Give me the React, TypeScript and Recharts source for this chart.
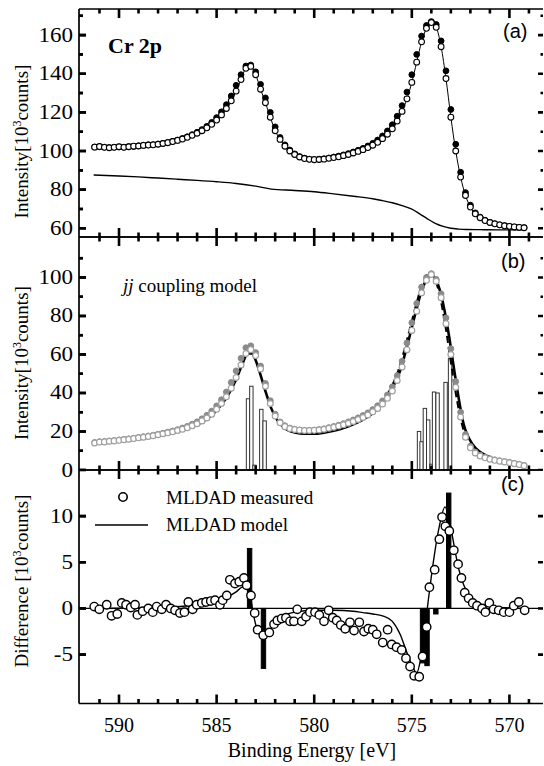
import React from 'react';
import { ComposedChart, Line, Bar, XAxis, YAxis, ReferenceLine, Customized } from 'recharts';

const W = 544;
const H = 766;
const SERIF = '"Liberation Serif", "Times New Roman", Times, serif';
const SANS = '"Liberation Sans", Arial, Helvetica, sans-serif';

const X_DOMAIN = [568.28, 592.05];
const X_MAJOR = [570, 575, 580, 585, 590];
const X_MINOR = [569, 571, 572, 573, 574, 576, 577, 578, 579, 581, 582, 583, 584, 586, 587, 588, 589, 591];

const Y_DOMAIN_A = [55.5, 173.5];
const Y_MAJOR_A = [60, 80, 100, 120, 140, 160];
const Y_MINOR_A = [70, 90, 110, 130, 150, 170];
const Y_DOMAIN_B = [0, 121];
const Y_MAJOR_B = [0, 20, 40, 60, 80, 100];
const Y_MINOR_B = [10, 30, 50, 70, 90, 110];
const Y_DOMAIN_C = [-10.3, 15];
const Y_MAJOR_C = [-5, 0, 5, 10];
const Y_MINOR_C: number[] = [];

const E_AB = [
  591.25, 591, 590.75, 590.5, 590.25, 590, 589.75, 589.5, 589.25, 589,
  588.75, 588.5, 588.25, 588, 587.75, 587.5, 587.25, 587, 586.75, 586.5,
  586.25, 586, 585.75, 585.5, 585.25, 585, 584.75, 584.5, 584.25, 584,
  583.75, 583.5, 583.25, 583, 582.75, 582.5, 582.25, 582, 581.75, 581.5,
  581.25, 581, 580.75, 580.5, 580.25, 580, 579.75, 579.5, 579.25, 579,
  578.75, 578.5, 578.25, 578, 577.75, 577.5, 577.25, 577, 576.75, 576.5,
  576.25, 576, 575.75, 575.5, 575.25, 575, 574.75, 574.5, 574.25, 574,
  573.75, 573.5, 573.25, 573, 572.75, 572.5, 572.25, 572, 571.75, 571.5,
  571.25, 571, 570.75, 570.5, 570.25, 570, 569.75, 569.5, 569.25,
];

const A_OPEN = [
  102.0, 102.3, 101.9, 101.7, 101.9, 102.2, 101.9, 102.2, 102.5, 102.6,
  102.9, 103.1, 103.2, 103.5, 103.9, 104.3, 104.9, 105.5, 106.2, 107.1,
  108.1, 109.2, 110.5, 112.0, 113.8, 116.0, 118.7, 122.0, 126.0, 131.0,
  137.0, 142.8, 143.8, 139.5, 132.0, 125.0, 117.5, 110.5, 106.0, 102.5,
  100.0, 98.2, 96.9, 96.1, 95.7, 95.5, 95.6, 95.8, 96.2, 96.6,
  97.0, 97.6, 98.2, 99.0, 99.8, 100.7, 101.8, 103.0, 104.5, 106.4,
  108.7, 111.5, 115.5, 120.5, 127.0, 135.5, 146.0, 156.5, 163.5, 166.5,
  164.0, 154.0, 137.5, 117.5, 100.0, 86.5, 77.0, 71.0, 67.5, 65.5,
  64.0, 63.0, 62.3, 61.8, 61.3, 61.0, 60.7, 60.5, 60.3,
];
const A_FILLED = [
  102.1, 102.2, 102.0, 101.8, 102.0, 102.1, 102.0, 102.3, 102.4, 102.7,
  103.0, 103.2, 103.3, 103.6, 104.0, 104.5, 105.0, 105.7, 106.5, 107.4,
  108.5, 109.7, 111.1, 112.8, 114.8, 117.3, 120.3, 124.0, 128.5, 134.0,
  139.5, 144.0, 144.5, 141.0, 134.5, 127.5, 120.0, 112.5, 107.0, 103.2,
  100.5, 98.5, 97.1, 96.3, 95.8, 95.6, 95.8, 96.0, 96.4, 96.9,
  97.4, 98.0, 98.7, 99.5, 100.4, 101.4, 102.6, 104.0, 105.7, 107.8,
  110.4, 113.6, 118.0, 123.5, 130.5, 139.5, 150.0, 159.5, 165.0, 167.0,
  165.5, 157.0, 141.5, 121.5, 103.5, 89.0, 78.5, 72.0, 68.0, 65.8,
  64.2, 63.1, 62.4, 61.8, 61.3, 61.0, 60.7, 60.5, 60.3,
];
const A_BG_E = [591.3, 590, 589, 588, 587, 586, 585, 584, 583, 582.2, 581, 580, 579, 578, 577, 576.5, 576, 575.5, 575, 574.6, 574.2, 573.8, 573.4, 573, 572.6, 572.2, 571.5, 570.5, 569.2];
const A_BG = [87.6, 87.1, 86.6, 86.0, 85.4, 84.8, 84.1, 83.2, 81.8, 80.3, 79.6, 78.9, 77.8, 76.6, 75.3, 74.3, 73.2, 71.7, 69.9, 67.5, 64.9, 62.6, 61.0, 60.0, 59.6, 59.4, 59.3, 59.2, 59.2];

const B_OPEN = [
  14.0, 14.5, 14.6, 14.9, 15.1, 15.4, 15.7, 16.0, 16.3, 16.7,
  17.0, 17.4, 17.8, 18.3, 18.8, 19.3, 19.8, 20.5, 21.2, 22.0,
  23.0, 24.0, 25.5, 27.0, 29.0, 31.5, 34.5, 38.0, 42.5, 48.0,
  54.5, 60.5, 62.5, 59.5, 52.5, 43.5, 34.5, 28.0, 24.5, 22.5,
  21.5, 21.0, 20.7, 20.5, 20.5, 20.6, 20.8, 21.2, 21.7, 22.2,
  22.8, 23.5, 24.3, 25.2, 26.2, 27.3, 28.6, 30.2, 32.0, 34.3,
  37.2, 41.0, 46.5, 53.5, 62.5, 72.5, 82.5, 92.0, 98.5, 101.5,
  98.0, 89.5, 76.0, 60.0, 43.0, 27.5, 17.0, 11.5, 8.8, 7.3,
  6.3, 5.6, 5.0, 4.6, 4.2, 3.8, 3.3, 2.8, 2.2,
];
const B_FILLED = [
  14.3, 14.7, 14.8, 15.1, 15.3, 15.6, 15.9, 16.2, 16.5, 16.9,
  17.3, 17.7, 18.1, 18.6, 19.1, 19.7, 20.3, 21.0, 21.8, 22.7,
  23.8, 25.0, 26.6, 28.4, 30.6, 33.3, 36.5, 40.5, 45.5, 51.5,
  58.0, 63.5, 64.5, 61.0, 54.0, 45.0, 36.0, 29.0, 25.0, 23.0,
  21.8, 21.2, 20.8, 20.6, 20.6, 20.7, 21.0, 21.4, 22.0, 22.6,
  23.3, 24.1, 25.0, 26.0, 27.1, 28.3, 29.7, 31.4, 33.4, 35.9,
  39.0, 43.2, 49.0, 56.5, 66.0, 76.5, 86.5, 95.0, 100.0, 102.0,
  99.0, 91.5, 79.0, 63.0, 46.0, 30.0, 18.5, 12.3, 9.3, 7.7,
  6.6, 5.9, 5.3, 4.8, 4.4, 4.0, 3.5, 3.0, 2.4,
];
const B_MODEL_E = [591.3, 590, 589, 588, 587, 586.5, 586, 585.5, 585, 584.5, 584, 583.7, 583.4, 583.2, 583, 582.8, 582.5, 582.2, 581.9, 581.5, 581, 580.5, 580, 579.5, 579, 578.5, 578, 577.5, 577, 576.5, 576, 575.6, 575.2, 574.8, 574.5, 574.2, 574, 573.8, 573.5, 573.1, 572.8, 572.35, 571.9, 571, 570, 569.2];
const B_MODEL = [14.5, 15.5, 16.5, 18.0, 20.0, 21.5, 23.5, 26.5, 31.0, 37.5, 47.0, 54.5, 60.5, 60.5, 57.0, 51.0, 41.0, 32.0, 26.0, 21.5, 19.5, 18.8, 18.8, 19.4, 20.4, 21.8, 23.7, 26.2, 29.5, 34.5, 42.5, 51.5, 66.0, 82.0, 93.0, 99.5, 101.0, 99.5, 91.0, 70.0, 50.0, 24.0, 13.5, 6.5, 3.5, 2.5];
const B_DASH_E = [577, 576.5, 576, 575.6, 575.2, 574.8, 574.5, 574.25, 574.05, 573.85, 573.6, 573.3, 573, 572.7, 572.4, 572, 571.5];
const B_DASH = [30.0, 35.5, 44.0, 54.5, 69.5, 85.0, 95.5, 101.0, 102.5, 100.0, 92.0, 76.0, 56.0, 37.0, 22.5, 13.0, 8.0];
const B_BAR_E = [583.39, 583.22, 583.06, 582.71, 582.54, 574.63, 574.5, 574.33, 574.16, 574.0, 573.86, 573.68, 573.27, 573.04];
const B_BAR = [37, 43.5, 2.5, 31.5, 25.5, 20, 14.7, 32, 26, 3, 40.5, 40, 45.5, 58];

const C_MEAS_E = [
  591.27, 591.01, 590.63, 590.38, 590.09, 589.86, 589.64, 589.4, 589.18, 589.06,
  588.79, 588.5, 588.27, 588.07, 587.81, 587.59, 587.35, 587.13, 586.88, 586.65,
  586.45, 586.23, 586.02, 585.76, 585.54, 585.3, 585.08, 584.83, 584.69, 584.48,
  584.32, 584.06, 583.84, 583.6, 583.46, 583.24, 583.05, 582.9, 582.61, 582.3,
  582.06, 581.89, 581.67, 581.45, 581.24, 581.04, 580.87, 580.64, 580.42, 580.22,
  579.96, 579.74, 579.5, 579.26, 579.05, 578.85, 578.64, 578.41, 578.17, 577.96,
  577.69, 577.45, 577.23, 577.0, 576.8, 576.49, 576.24, 576.03, 575.78, 575.52,
  575.3, 575.09, 574.88, 574.62, 574.45, 574.24, 574.1, 573.83, 573.59, 573.45,
  573.28, 573.08, 572.85, 572.63, 572.46, 572.29, 572.09, 571.88, 571.66, 571.4,
  571.23, 571.03, 570.81, 570.55, 570.29, 570.0, 569.78, 569.52, 569.22,
];
const C_MEAS = [
  0.2, -0.1, 0.4, -0.8, -0.6, 0.6, 0.4, 0.1, 0.4, -0.7,
  -0.3, 0.0, -0.4, 0.2, -0.1, 0.4, 0.0, -0.2, -0.5, -0.4,
  0.7, -0.1, 0.4, 0.6, 0.7, 0.8, 0.9, 0.4, 0.9, 1.4,
  3.1, 2.7, 2.9, 3.3, 2.5, 1.4, -0.5, -2.3, -2.9, -2.6,
  -1.7, -1.3, -1.1, -1.0, -1.4, -1.4, -0.1, -1.4, -0.9, -0.4,
  -0.4, -0.7, -1.4, -0.2, -1.0, -1.3, -1.8, -2.2, -1.5, -2.4,
  -1.5, -2.5, -2.2, -2.3, -2.8, -3.7, -2.3, -3.9, -4.2, -4.5,
  -5.4, -6.3, -7.3, -7.4, -5.2, -2.0, 2.3, 4.2, 7.5, 9.9,
  8.9, 8.4, 6.3, 4.8, 3.3, 1.7, 1.1, 0.6, 0.3, 0.0,
  -0.4, 0.6, -0.1, -0.2, -0.4, -0.4, 0.3, 0.7, -0.2,
];
const C_MODEL_E = [591.3, 588, 586, 585, 584.5, 584, 583.7, 583.45, 583.25, 583.1, 582.9, 582.7, 582.5, 582.2, 581.9, 581.5, 581, 580, 579, 578, 577.5, 577, 576.5, 576, 575.6, 575.3, 575, 574.75, 574.55, 574.35, 574.15, 573.9, 573.6, 573.3, 573.1, 572.85, 572.6, 572.35, 572.1, 571.8, 571.4, 571, 570.5, 569.2];
const C_MODEL = [0.0, 0.1, 0.4, 0.8, 1.2, 1.8, 2.3, 2.4, 1.0, -0.8, -2.4, -3.0, -2.9, -2.1, -1.3, -0.7, -0.4, -0.2, -0.2, -0.3, -0.45, -0.6, -0.8, -1.4, -2.8, -4.5, -6.1, -7.0, -5.5, -2.5, 1.0, 5.0, 8.8, 11.0, 9.8, 7.0, 4.3, 2.6, 1.5, 0.8, 0.4, 0.2, 0.1, 0.0];
const C_BAR_E = [583.31, 582.6, 574.45, 574.22, 573.77, 573.11];
const C_BAR = [6.5, -6.5, -5.9, -6.2, -0.6, 12.5];

const rows = (es: number[], vs: number[]) => es.map((e, i) => ({ e, v: vs[i] }));

const PLOT_LEFT = 79;
const PLOT_W = W - PLOT_LEFT - 1;
const A_TOP = 9;
const A_BOTTOM = 237;
const B_BOTTOM = 470;
const C_BOTTOM = 703.5;
const AXIS_LINE = { stroke: '#000', strokeWidth: 1.7 };
const TICK_COLOR = '#000';
const TICK_W = 2.6;
const TICK_LINE = { stroke: TICK_COLOR, strokeWidth: TICK_W };

const NoLabel = () => null;

const XLabel = (props: any) => (
  <text x={props.x} y={props.y + 28} textAnchor="middle" fontFamily={SERIF} fontSize={20} fill="#000">
    {props.payload.value}
  </text>
);

const YLabel = (props: any) => (
  <text
    transform={`translate(${props.x - 6},${props.y + 6.5}) scale(1.15,1)`}
    textAnchor="end"
    fontFamily={SERIF}
    fontSize={20}
    fill="#000"
  >
    {props.payload.value}
  </text>
);

const common = {
  type: 'number' as const,
  allowDataOverflow: true,
  interval: 0 as const,
  stroke: '#000',
  tickLine: false,
  tickSize: 0,
  tickMargin: 0,
};

function axes(yDomain: number[], yMajor: number[], yMinor: number[], xLabels: boolean) {
  const list = [
    <XAxis key="xb" {...common} dataKey="e" domain={X_DOMAIN} reversed ticks={X_MAJOR} height={1}
      axisLine={AXIS_LINE} tick={xLabels ? <XLabel /> : <NoLabel />} />,
    <XAxis key="xt" xAxisId="t" orientation="top" {...common} dataKey="e" domain={X_DOMAIN} reversed ticks={X_MAJOR} height={1}
      axisLine={AXIS_LINE} tick={<NoLabel />} />,
    <YAxis key="yl" {...common} domain={yDomain} ticks={yMajor} width={PLOT_LEFT}
      tickLine={TICK_LINE} tickSize={-7} tickMargin={7}
      axisLine={AXIS_LINE} tick={<YLabel />} />,
    <YAxis key="yr" yAxisId="r" orientation="right" {...common} domain={yDomain} ticks={yMajor} width={1}
      axisLine={false} tick={<NoLabel />} />,
  ];
  if (yMinor.length) {
    list.push(
      <YAxis key="ylm" yAxisId="lm" {...common} domain={yDomain} ticks={yMinor} width={1} mirror
        tickLine={TICK_LINE} tickSize={4} axisLine={false} tick={<NoLabel />} />,
    );
  }
  return list;
}

function tickSeries(yDomain: number[], yMajor: number[], yMinor: number[], plotH: number) {
  const [y0, y1] = yDomain;
  const pyu = plotH / (y1 - y0);
  const pxu = PLOT_W / (X_DOMAIN[1] - X_DOMAIN[0]);
  const xl = X_DOMAIN[1];
  const xr = X_DOMAIN[0];
  const bottom: any[] = [];
  const top: any[] = [];
  const left: any[] = [];
  const right: any[] = [];
  const xt: [number, number][] = [...X_MAJOR.map((e) => [e, 9] as [number, number]), ...X_MINOR.map((e) => [e, 4.5] as [number, number])];
  xt.forEach(([e, len]) => {
    bottom.push({ e, v: y0 }, { e, v: y0 + len / pyu }, { e, v: null });
    top.push({ e, v: y1 }, { e, v: y1 - len / pyu }, { e, v: null });
  });
  const yt: [number, number, number][] = [
    ...yMajor.map((v) => [v, 7, 5] as [number, number, number]),
    ...yMinor.map((v) => [v, 4, 2.5] as [number, number, number]),
  ];
  yt.forEach(([v, lenL, lenR]) => {
    left.push({ e: xl, v }, { e: xl - lenL / pxu, v }, { e: xl, v: null });
    right.push({ e: xr, v }, { e: xr + lenR / pxu, v }, { e: xr, v: null });
  });
  const style = { stroke: TICK_COLOR, strokeWidth: TICK_W, dot: false, activeDot: false, isAnimationActive: false, type: 'linear' as const, connectNulls: false };
  return [
    <Line key="tb" data={bottom} dataKey="v" {...style} />,
    <Line key="tt" data={top} dataKey="v" {...style} />,
    <Line key="tl" data={left} dataKey="v" {...style} />,
    <Line key="tr" data={right} dataKey="v" {...style} />,
  ];
}

const makeBarShape = (w: number, fill: string, stroke: string) => (p: any) => {
  const cx = p.x + p.width / 2;
  const top = Math.min(p.y, p.y + p.height);
  const h = Math.abs(p.height);
  return <rect x={cx - w / 2} y={top} width={w} height={h} fill={fill} stroke={stroke} strokeWidth={1} />;
};

const YTitle = ({ cy, main }: { cy: number; main: string }) => (
  <text x={28} y={cy} transform={`rotate(-90 28 ${cy})`} textAnchor="middle" fontFamily={SERIF} fontSize={19} fill="#000">
    {main}
    <tspan dy={-7} fontSize={12}>3</tspan>
    <tspan dy={7}>counts]</tspan>
  </text>
);

const AnnotA = () => (
  <g>
    <text x={108} y={53} fontFamily={SERIF} fontWeight="bold" fontSize={22} fill="#000">Cr 2p</text>
    <text x={503} y={38} fontFamily={SANS} fontSize={20} fill="#000">(a)</text>
    <YTitle cy={141.5} main="Intensity[10" />
  </g>
);

const AnnotB = () => (
  <g>
    <text x={123} y={292} fontFamily={SERIF} fontSize={19} fill="#000">
      <tspan fontStyle="italic">jj</tspan> coupling model
    </text>
    <text x={501} y={268} fontFamily={SANS} fontSize={20} fill="#000">(b)</text>
    <YTitle cy={363} main="Intensity[10" />
  </g>
);

const AnnotC = () => (
  <g>
    <circle cx={123} cy={497} r={4.2} fill="#fff" stroke="#000" strokeWidth={1.6} />
    <text x={166} y={504} fontFamily={SERIF} fontSize={19} fill="#000">MLDAD measured</text>
    <line x1={95} x2={148} y1={525} y2={525} stroke="#000" strokeWidth={1.4} />
    <text x={166} y={531} fontFamily={SERIF} fontSize={19} fill="#000">MLDAD model</text>
    <text x={501} y={491} fontFamily={SANS} fontSize={20} fill="#000">(c)</text>
    <YTitle cy={581} main="Difference [10" />
    <text x={312} y={757} textAnchor="middle" fontFamily={SERIF} fontSize={20} fill="#000">Binding Energy [eV]</text>
  </g>
);

const layer: React.CSSProperties = { position: 'absolute', left: 0, top: 0 };
const m = (top: number, bottom: number) => ({ top: top - 1, right: 0, bottom: H - bottom - 1, left: 0 });

export default function App() {
  const aOpen = rows(E_AB, A_OPEN);
  const aFilled = rows(E_AB, A_FILLED);
  const aBg = rows(A_BG_E, A_BG);
  const bOpen = rows(E_AB, B_OPEN);
  const bFilled = rows(E_AB, B_FILLED);
  const bModel = rows(B_MODEL_E, B_MODEL);
  const bDash = rows(B_DASH_E, B_DASH);
  const bBars = rows(B_BAR_E, B_BAR);
  const cMeas = rows(C_MEAS_E, C_MEAS);
  const cModel = rows(C_MODEL_E, C_MODEL);
  const cBars = rows(C_BAR_E, C_BAR);

  return (
    <div style={{ position: 'absolute', left: 0, top: 0, width: W, height: H, background: '#fff', overflow: 'hidden' }}>
      <div style={layer}>
        <ComposedChart width={W} height={H} data={aOpen} margin={m(A_TOP, A_BOTTOM)}>
          {axes(Y_DOMAIN_A, Y_MAJOR_A, Y_MINOR_A, false)}
          {tickSeries(Y_DOMAIN_A, Y_MAJOR_A, Y_MINOR_A, A_BOTTOM - A_TOP)}
          <Line data={aBg} dataKey="v" type="monotone" stroke="#000" strokeWidth={1.4} dot={false} isAnimationActive={false} />
          <Line data={aOpen} dataKey="v" type="monotone" stroke="#000" strokeWidth={1} dot={false} isAnimationActive={false} />
          <Line data={aFilled} dataKey="v" stroke="none" dot={{ r: 2.9, fill: '#000', stroke: '#000', strokeWidth: 1 }} isAnimationActive={false} />
          <Line data={aOpen} dataKey="v" stroke="none" dot={{ r: 2.9, fill: '#fff', stroke: '#000', strokeWidth: 1.1 }} isAnimationActive={false} />
          <Customized component={<AnnotA />} />
        </ComposedChart>
      </div>
      <div style={layer}>
        <ComposedChart width={W} height={H} data={bBars} margin={m(A_BOTTOM, B_BOTTOM)}>
          {axes(Y_DOMAIN_B, Y_MAJOR_B, Y_MINOR_B, false)}
          {tickSeries(Y_DOMAIN_B, Y_MAJOR_B, Y_MINOR_B, B_BOTTOM - A_BOTTOM)}
          <Line data={bFilled} dataKey="v" stroke="none" dot={{ r: 2.9, fill: '#8a8a8a', stroke: '#8a8a8a', strokeWidth: 1 }} isAnimationActive={false} />
          <Line data={bOpen} dataKey="v" stroke="none" dot={{ r: 2.9, fill: '#fff', stroke: '#a0a0a0', strokeWidth: 1.2 }} isAnimationActive={false} />
          <Bar dataKey="v" barSize={3} fill="#fff" shape={makeBarShape(3.4, '#fff', '#333')} isAnimationActive={false} />
          <Line data={bDash} dataKey="v" type="monotone" stroke="#000" strokeWidth={2} strokeDasharray="7 4" dot={false} isAnimationActive={false} />
          <Line data={bModel} dataKey="v" type="monotone" stroke="#000" strokeWidth={2.6} dot={false} isAnimationActive={false} />
          <Customized component={<AnnotB />} />
        </ComposedChart>
      </div>
      <div style={layer}>
        <ComposedChart width={W} height={H} data={cBars} margin={m(B_BOTTOM, C_BOTTOM)}>
          {axes(Y_DOMAIN_C, Y_MAJOR_C, Y_MINOR_C, true)}
          {tickSeries(Y_DOMAIN_C, Y_MAJOR_C, Y_MINOR_C, C_BOTTOM - B_BOTTOM)}
          <ReferenceLine y={0} stroke="#000" strokeWidth={1.3} />
          <Bar dataKey="v" barSize={3} fill="#000" shape={makeBarShape(4.4, '#000', '#000')} isAnimationActive={false} />
          <Line data={cModel} dataKey="v" type="monotone" stroke="#000" strokeWidth={1.4} dot={false} isAnimationActive={false} />
          <Line data={cMeas} dataKey="v" stroke="none" dot={{ r: 4.2, fill: '#fff', stroke: '#000', strokeWidth: 1.4 }} isAnimationActive={false} />
          <Customized component={<AnnotC />} />
        </ComposedChart>
      </div>
    </div>
  );
}
